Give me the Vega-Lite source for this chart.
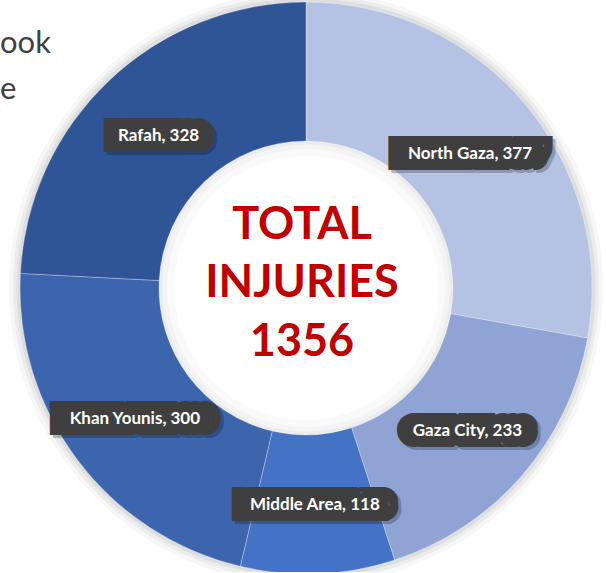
{
  "$schema": "https://vega.github.io/schema/vega-lite/v6.json",
  "width": 600,
  "height": 568,
  "autosize": "none",
  "padding": {"left": 6, "top": 4, "right": 0, "bottom": 0},
  "background": "white",
  "title": {
    "text": ["ook", "e"],
    "anchor": "start",
    "orient": "top",
    "frame": "group",
    "offset": -139,
    "baseline": "alphabetic",
    "dx": -6,
    "lineHeight": 46,
    "font": "Lato",
    "fontSize": 31,
    "fontWeight": "normal",
    "color": "#404040"
  },
  "data": {
    "values": [
      {"region": "North Gaza", "injuries": 377, "seq": 1},
      {"region": "Gaza City", "injuries": 233, "seq": 2},
      {"region": "Middle Area", "injuries": 118, "seq": 3},
      {"region": "Khan Younis", "injuries": 300, "seq": 4},
      {"region": "Rafah", "injuries": 328, "seq": 5}
    ]
  },
  "layer": [
    {
      "data": {"values": [{}]},
      "mark": {"type": "arc", "theta": 0, "theta2": 6.2832, "innerRadius": 0, "outerRadius": 297, "fill": "#000000", "opacity": 0.03},
      "encoding": {}
    },
    {
      "data": {"values": [{}]},
      "mark": {"type": "arc", "theta": 0, "theta2": 6.2832, "innerRadius": 0, "outerRadius": 293, "fill": "#000000", "opacity": 0.045},
      "encoding": {}
    },
    {
      "data": {"values": [{}]},
      "mark": {"type": "arc", "theta": 0, "theta2": 6.2832, "innerRadius": 0, "outerRadius": 289.5, "fill": "#000000", "opacity": 0.06},
      "encoding": {}
    },
    {
      "data": {"values": [{}]},
      "mark": {"type": "arc", "theta": 0, "theta2": 6.2832, "innerRadius": 0, "outerRadius": 147, "fill": "#ffffff"},
      "encoding": {}
    },
    {
      "data": {"values": [{}]},
      "mark": {"type": "arc", "theta": 0, "theta2": 6.2832, "innerRadius": 132, "outerRadius": 147, "fill": "#000000", "opacity": 0.02},
      "encoding": {}
    },
    {
      "data": {"values": [{}]},
      "mark": {"type": "arc", "theta": 0, "theta2": 6.2832, "innerRadius": 139, "outerRadius": 147, "fill": "#000000", "opacity": 0.025},
      "encoding": {}
    },
    {
      "data": {"values": [{}]},
      "mark": {"type": "arc", "theta": 0, "theta2": 6.2832, "innerRadius": 143.5, "outerRadius": 147, "fill": "#000000", "opacity": 0.03},
      "encoding": {}
    },
    {
      "mark": {"type": "arc", "innerRadius": 147, "outerRadius": 286, "stroke": "#ffffff", "strokeWidth": 0.6, "strokeOpacity": 0.5},
      "encoding": {
        "theta": {"field": "injuries", "type": "quantitative", "stack": true},
        "order": {"field": "seq", "type": "quantitative"},
        "color": {
          "field": "region",
          "type": "nominal",
          "legend": null,
          "scale": {
            "domain": ["North Gaza", "Gaza City", "Middle Area", "Khan Younis", "Rafah"],
            "range": ["#b4c2e3", "#8fa4d5", "#4472c4", "#3c65ae", "#2f5597"]
          }
        }
      }
    },
    {
      "transform": [{"calculate": "upper(datum.region) + '  ' + datum.injuries", "as": "pad"}],
      "mark": {"type": "text", "radius": 214, "dx": 3, "dy": 6, "font": "Lato", "fontSize": 17, "fontWeight": "bold", "fill": "#000000", "stroke": "#000000", "strokeWidth": 22, "strokeJoin": "miter", "strokeMiterLimit": 1.5, "opacity": 0.22, "align": "center", "baseline": "middle"},
      "encoding": {
        "theta": {"field": "injuries", "type": "quantitative", "stack": true},
        "order": {"field": "seq", "type": "quantitative"},
        "text": {"field": "pad", "type": "nominal"}
      }
    },
    {
      "transform": [{"calculate": "upper(datum.region) + '  ' + datum.injuries", "as": "pad"}],
      "mark": {"type": "text", "radius": 214, "dy": 3, "font": "Lato", "fontSize": 17, "fontWeight": "bold", "fill": "#3f3f3f", "stroke": "#3f3f3f", "strokeWidth": 22, "strokeJoin": "miter", "strokeMiterLimit": 1.5, "align": "center", "baseline": "middle"},
      "encoding": {
        "theta": {"field": "injuries", "type": "quantitative", "stack": true},
        "order": {"field": "seq", "type": "quantitative"},
        "text": {"field": "pad", "type": "nominal"}
      }
    },
    {
      "transform": [{"calculate": "datum.region + ', ' + datum.injuries", "as": "label"}],
      "mark": {"type": "text", "radius": 214, "dy": 3, "font": "Lato", "fontSize": 17, "fontWeight": "bold", "fill": "#ffffff", "align": "center", "baseline": "middle"},
      "encoding": {
        "theta": {"field": "injuries", "type": "quantitative", "stack": true},
        "order": {"field": "seq", "type": "quantitative"},
        "text": {"field": "label", "type": "nominal"}
      }
    },
    {
      "data": {"values": [{}]},
      "mark": {"type": "text", "text": ["TOTAL", "INJURIES"], "lineHeight": 58, "font": "Lato", "fontSize": 45, "fontWeight": "bold", "fill": "#c00000", "align": "center", "baseline": "middle", "dx": -4, "dy": -63},
      "encoding": {}
    },
    {
      "transform": [{"aggregate": [{"op": "sum", "field": "injuries", "as": "total"}]}],
      "mark": {"type": "text", "font": "Lato", "fontSize": 45, "fontWeight": "bold", "fill": "#c00000", "align": "center", "baseline": "middle", "dx": -4, "dy": 54},
      "encoding": {
        "text": {"field": "total", "type": "quantitative", "format": "d"}
      }
    }
  ]
}
